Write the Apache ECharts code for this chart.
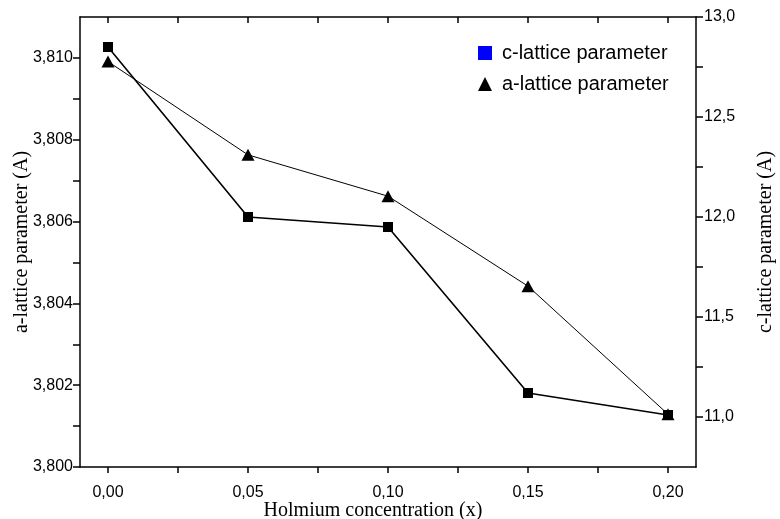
<!DOCTYPE html>
<html>
<head>
<meta charset="utf-8">
<script src="https://cdn.jsdelivr.net/npm/echarts@6/dist/echarts.min.js"></script>
<style>
    html, body { margin: 0; padding: 0; background: #fff; }
    #main { width: 780px; height: 519px; }
</style>
</head>
<body>
<div id="main"></div>
<script>
var conc = [0.00, 0.05, 0.10, 0.15, 0.20];
var cLattice = [12.85, 12.00, 11.95, 11.12, 11.01];
var aLattice = [3.80991, 3.80763, 3.80662, 3.80442, 3.80129];

var xLabels = [0.00, 0.05, 0.10, 0.15, 0.20];
var xTicks = [0.00, 0.025, 0.05, 0.075, 0.10, 0.125, 0.15, 0.175, 0.20];
var aLabels = [3.800, 3.802, 3.804, 3.806, 3.808, 3.810];
var aTicks = [3.800, 3.801, 3.802, 3.803, 3.804, 3.805, 3.806, 3.807, 3.808, 3.809, 3.810];
var cLabels = [11.0, 11.5, 12.0, 12.5, 13.0];
var cTicks = [11.0, 11.25, 11.5, 11.75, 12.0, 12.25, 12.5, 12.75, 13.0];

var cData = [];
var aData = [];
for (var i = 0; i < conc.length; i++) {
    cData.push([conc[i], cLattice[i]]);
    aData.push([conc[i], aLattice[i]]);
}

function comma(v, n) {
    return v.toFixed(n).replace('.', ',');
}

var lineAxis = { show: true, onZero: false, lineStyle: { color: '#000', width: 1.5 } };
var tickStyle = { color: '#000', width: 1.5 };
var labelFont = { fontFamily: 'Liberation Sans', fontSize: 16, color: '#000' };
var titleFont = { fontFamily: 'Liberation Serif', fontSize: 20, color: '#000' };

var myChart = echarts.init(document.getElementById('main'));
var option = {
    animation: false,
    backgroundColor: '#fff',
    grid: { left: 80, right: 84, top: 17, bottom: 52, containLabel: false, outerBoundsMode: 'none' },
    legend: {
        orient: 'vertical',
        left: 473,
        top: 38,
        itemWidth: 14,
        itemHeight: 14,
        itemGap: 11,
        textStyle: { fontFamily: 'Liberation Sans', fontSize: 20, color: '#000', padding: [0, 0, 0, 5] },
        data: [
            { name: 'c-lattice parameter', icon: 'rect', itemStyle: { color: '#0000ff' } },
            { name: 'a-lattice parameter', icon: 'triangle', itemStyle: { color: '#000' } }
        ]
    },
    xAxis: [
        {
            type: 'value',
            min: -0.01,
            max: 0.21,
            position: 'bottom',
            name: 'Holmium concentration (x)',
            nameLocation: 'middle',
            nameGap: 34,
            nameMoveOverlap: false,
            nameTextStyle: Object.assign({ padding: [0, 30, 0, 0] }, titleFont),
            axisLine: lineAxis,
            splitLine: { show: false },
            axisTick: { show: true, length: 6, customValues: xTicks, lineStyle: tickStyle },
            axisLabel: Object.assign({ customValues: xLabels, margin: 18,
                formatter: function (v) { return comma(v, 2); } }, labelFont)
        },
        {
            type: 'value',
            min: -0.01,
            max: 0.21,
            position: 'top',
            axisLine: lineAxis,
            splitLine: { show: false },
            axisTick: { show: true, inside: true, length: 6, customValues: xTicks, lineStyle: tickStyle },
            axisLabel: { show: false }
        }
    ],
    yAxis: [
        {
            type: 'value',
            min: 3.800,
            max: 3.811,
            position: 'left',
            name: 'a-lattice parameter (A)',
            nameLocation: 'middle',
            nameRotate: 90,
            nameGap: 48,
            nameMoveOverlap: false,
            nameTextStyle: titleFont,
            axisLine: lineAxis,
            splitLine: { show: false },
            axisTick: { show: true, length: 7, customValues: aTicks, lineStyle: tickStyle },
            axisLabel: Object.assign({ customValues: aLabels, margin: 7,
                formatter: function (v) { return comma(v, 3); } }, labelFont)
        },
        {
            type: 'value',
            min: 10.75,
            max: 13.0,
            position: 'right',
            name: 'c-lattice parameter (A)',
            nameLocation: 'middle',
            nameRotate: 90,
            nameGap: 60,
            nameMoveOverlap: false,
            nameTextStyle: titleFont,
            axisLine: lineAxis,
            splitLine: { show: false },
            axisTick: { show: true, length: 7, customValues: cTicks, lineStyle: tickStyle },
            axisLabel: Object.assign({ customValues: cLabels, margin: 8,
                formatter: function (v) { return comma(v, 1); } }, labelFont)
        }
    ],
    series: [
        {
            name: 'c-lattice parameter',
            type: 'line',
            xAxisIndex: 0,
            yAxisIndex: 1,
            data: cData,
            symbol: 'rect',
            symbolSize: 10,
            itemStyle: { color: '#000' },
            lineStyle: { color: '#000', width: 1.6 },
            z: 3
        },
        {
            name: 'a-lattice parameter',
            type: 'line',
            xAxisIndex: 0,
            yAxisIndex: 0,
            data: aData,
            symbol: 'triangle',
            symbolSize: [13, 12],
            itemStyle: { color: '#000' },
            lineStyle: { color: '#000', width: 1 },
            z: 4
        }
    ]
};
myChart.setOption(option);
</script>
</body>
</html>
